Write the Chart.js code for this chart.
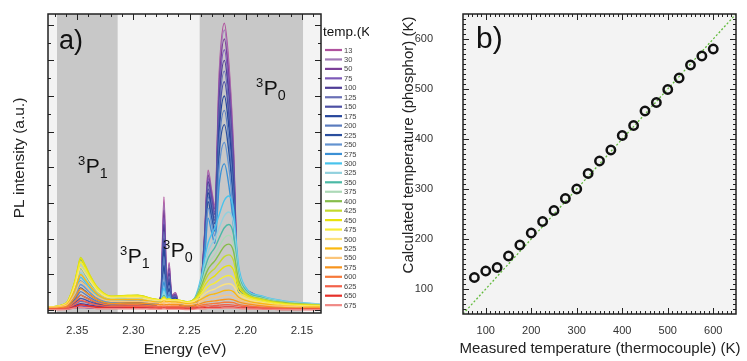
<!DOCTYPE html>
<html>
<head>
<meta charset="utf-8">
<script src="https://cdn.jsdelivr.net/npm/chart.js@4/dist/chart.umd.min.js"></script>
<style>
  body { margin: 0; background: #fff; }
  #specChart { position: absolute; left: 0; top: 0; }
  #calibChart { position: absolute; left: 375px; top: 0; }
</style>
</head>
<body>
<canvas id="specChart" width="369" height="361"></canvas>
<canvas id="calibChart" width="372" height="361"></canvas>
<script>
// ---- panel a) PL spectra ----
const energies = [2.376, 2.360, 2.352, 2.3495, 2.347, 2.3435, 2.339, 2.332, 2.320, 2.305, 2.296, 2.283,
  2.2755, 2.2728, 2.2702, 2.2682, 2.2660, 2.2625, 2.2595, 2.252, 2.245, 2.2395, 2.2365, 2.2335, 2.2305,
  2.2275, 2.2235, 2.2190, 2.2150, 2.2110, 2.2065, 2.2010, 2.185, 2.165, 2.134];

const temps = [13, 30, 50, 75, 100, 125, 150, 175, 200, 225, 250, 275, 300, 325, 350, 375, 400, 425,
  450, 475, 500, 525, 550, 575, 600, 625, 650, 675];

const tempColors = ['#b0529e', '#a27ab8', '#7b3f98', '#7d5ab8', '#4f3d96', '#6a70b6', '#4d50a4', '#26469b',
  '#5b7cbe', '#2a4f9e', '#6393d0', '#3b90d5', '#48c3ec', '#92d1de', '#4bb9a6', '#acd9b7', '#86bd4a',
  '#c3d92e', '#e8e20c', '#f7ec35', '#fbe27e', '#fbb80f', '#fbc57a', '#f7941d', '#f6793a', '#f2614a',
  '#e6302a', '#f08a86'];

const spectra = [
  [.02,.03,.06,.07,.07,.07,.06,.05,.05,.05,.05,.11,.42,3.17,.67,1.33,.42,.49,.17,.04,.12,.82,2.18,3.92,3.38,2.94,6.68,8.04,6.89,4.61,.6,.55,.32,.16,.1],
  [.02,.03,.06,.07,.07,.07,.06,.05,.05,.05,.05,.11,.4,3.0,.64,1.26,.4,.46,.17,.04,.12,.81,2.14,3.85,3.31,2.88,6.53,7.85,6.73,4.5,.59,.55,.31,.16,.1],
  [.02,.04,.07,.08,.08,.08,.07,.06,.06,.07,.07,.12,.39,2.8,.61,1.18,.39,.44,.17,.05,.13,.8,2.11,3.78,3.26,2.83,6.34,7.6,6.51,4.36,.6,.54,.32,.16,.11],
  [.02,.04,.1,.11,.12,.11,.11,.08,.08,.09,.09,.13,.37,2.6,.58,1.11,.37,.42,.17,.06,.14,.79,2.06,3.69,3.18,2.75,6.11,7.3,6.25,4.19,.59,.54,.31,.17,.11],
  [.02,.05,.13,.16,.18,.17,.14,.11,.09,.1,.11,.14,.36,2.4,.54,1.03,.36,.4,.17,.06,.14,.78,2.02,3.6,3.1,2.68,5.87,7.0,5.99,4.02,.58,.53,.32,.16,.1],
  [.03,.06,.16,.21,.25,.23,.19,.14,.11,.12,.13,.14,.34,2.2,.51,.96,.34,.39,.17,.07,.15,.77,1.97,3.51,3.02,2.6,5.63,6.7,5.73,3.85,.57,.53,.3,.17,.11],
  [.03,.07,.21,.27,.33,.3,.24,.17,.12,.14,.15,.15,.33,2.0,.48,.88,.33,.37,.18,.08,.16,.76,1.92,3.4,2.92,2.52,5.39,6.4,5.47,3.68,.56,.52,.31,.16,.11],
  [.03,.07,.25,.34,.42,.37,.3,.2,.14,.16,.17,.16,.31,1.75,.44,.78,.31,.34,.18,.09,.16,.75,1.86,3.29,2.82,2.42,5.07,6.0,5.12,3.45,.55,.51,.31,.16,.11],
  [.04,.08,.3,.42,.52,.46,.36,.24,.16,.18,.19,.17,.29,1.5,.4,.69,.29,.31,.18,.1,.17,.73,1.8,3.17,2.72,2.32,4.76,5.6,4.77,3.22,.53,.49,.29,.16,.11],
  [.04,.09,.35,.5,.62,.55,.43,.29,.19,.21,.22,.19,.27,1.25,.36,.6,.27,.3,.18,.11,.18,.72,1.74,3.04,2.6,2.22,4.44,5.2,4.43,3.0,.51,.49,.29,.16,.11],
  [.05,.11,.41,.58,.72,.64,.5,.33,.21,.24,.25,.2,.26,1.0,.33,.5,.26,.28,.19,.13,.2,.7,1.65,2.86,2.45,2.08,4.04,4.7,4.0,2.72,.52,.48,.29,.16,.11],
  [.05,.12,.47,.66,.82,.72,.56,.37,.24,.27,.28,.22,.25,.8,.3,.43,.25,.27,.2,.14,.21,.66,1.5,2.58,2.21,1.87,3.55,4.1,3.49,2.39,.5,.46,.29,.16,.11],
  [.06,.13,.53,.74,.92,.81,.63,.42,.27,.3,.31,.24,.25,.62,.28,.37,.25,.26,.22,.19,.36,.95,1.46,1.88,2.12,2.3,2.69,3.08,3.2,2.84,1.28,.68,.39,.25,.17],
  [.07,.15,.6,.84,1.05,.93,.72,.47,.3,.33,.34,.26,.25,.5,.28,.33,.25,.26,.23,.2,.35,.85,1.28,1.64,1.84,1.99,2.32,2.65,2.75,2.45,1.14,.63,.37,.24,.17],
  [.07,.16,.66,.94,1.18,1.04,.8,.53,.33,.36,.37,.28,.26,.42,.28,.31,.26,.27,.25,.21,.35,.78,1.15,1.45,1.62,1.75,2.03,2.31,2.4,2.14,1.03,.6,.35,.22,.15],
  [.08,.18,.73,1.04,1.3,1.14,.88,.57,.36,.39,.4,.3,.27,.36,.28,.3,.27,.27,.26,.23,.34,.72,1.03,1.29,1.44,1.55,1.79,2.03,2.1,1.88,.94,.55,.33,.22,.16],
  [.08,.19,.79,1.13,1.42,1.25,.97,.61,.38,.4,.41,.31,.28,.35,.29,.3,.28,.28,.27,.24,.33,.67,.93,1.15,1.28,1.38,1.58,1.79,1.85,1.66,.85,.52,.31,.21,.14],
  [.08,.19,.82,1.18,1.48,1.3,1.0,.64,.39,.41,.42,.32,.29,.36,.3,.31,.29,.29,.28,.23,.33,.6,.81,.99,1.09,1.17,1.33,1.5,1.55,1.4,.76,.49,.3,.19,.14],
  [.08,.19,.81,1.16,1.45,1.27,.99,.63,.39,.41,.41,.32,.29,.36,.3,.31,.29,.29,.28,.23,.31,.52,.69,.82,.9,.96,1.09,1.21,1.25,1.13,.66,.45,.28,.18,.13],
  [.08,.18,.75,1.08,1.35,1.19,.92,.6,.37,.39,.39,.31,.28,.33,.28,.29,.28,.28,.27,.22,.28,.45,.56,.66,.72,.76,.85,.94,.97,.89,.55,.39,.25,.16,.11],
  [.08,.17,.68,.96,1.2,1.06,.83,.54,.34,.35,.35,.28,.26,.3,.26,.27,.26,.26,.25,.2,.26,.37,.46,.52,.56,.59,.66,.72,.74,.68,.45,.34,.21,.13,.11],
  [.07,.15,.57,.81,1.0,.88,.69,.45,.29,.3,.3,.24,.22,.26,.23,.24,.23,.23,.22,.18,.22,.31,.36,.41,.44,.46,.5,.55,.56,.52,.37,.28,.18,.12,.09],
  [.06,.13,.46,.65,.8,.71,.56,.37,.25,.25,.25,.21,.19,.22,.2,.2,.19,.19,.19,.15,.18,.25,.29,.32,.34,.35,.38,.41,.42,.39,.3,.23,.14,.11,.07],
  [.05,.1,.36,.49,.6,.53,.43,.29,.19,.2,.2,.17,.15,.17,.15,.16,.15,.15,.15,.12,.14,.19,.22,.24,.25,.26,.28,.3,.31,.29,.23,.19,.12,.07,.06],
  [.03,.07,.25,.34,.42,.37,.3,.21,.14,.15,.15,.12,.11,.12,.11,.11,.11,.11,.11,.09,.1,.14,.16,.17,.18,.19,.2,.22,.22,.21,.16,.13,.08,.05,.04],
  [.02,.05,.17,.23,.28,.25,.2,.14,.1,.11,.11,.09,.08,.09,.08,.08,.08,.08,.08,.06,.07,.1,.11,.12,.12,.13,.14,.15,.15,.14,.12,.1,.06,.04,.03],
  [.02,.03,.1,.13,.15,.14,.11,.08,.06,.07,.07,.06,.05,.06,.05,.05,.05,.05,.05,.04,.05,.06,.07,.07,.08,.08,.08,.09,.09,.09,.07,.06,.04,.02,.02],
  [.01,.02,.06,.07,.08,.07,.07,.04,.04,.04,.04,.03,.03,.04,.03,.03,.03,.03,.03,.02,.03,.04,.04,.05,.05,.05,.05,.06,.06,.06,.05,.04,.03,.02,.01]
];

const energyTicks = [2.35, 2.30, 2.25, 2.20, 2.15];
const grayBands = [[2.368, 2.314], [2.241, 2.149]];

// ---- panel b) calibration ----
const measuredT = [75, 100, 125, 150, 175, 200, 225, 250, 275, 300, 325, 350, 375, 400, 425, 450, 475, 500, 525, 550, 575, 600];
const calcT = [123, 136, 143, 166, 188, 212, 235, 257, 281, 300, 331, 356, 378, 407, 427, 456, 473, 499, 522, 548, 566, 580];
const tempTicks = [100, 200, 300, 400, 500, 600];

const FONT = '"Liberation Sans", Arial, sans-serif';

// tick marks pointing inwards on all four sides
function inwardTicks(ctx, area, xs, ys, xMaj, xMin, yMaj, yMin) {
  ctx.save();
  ctx.strokeStyle = '#222';
  ctx.lineWidth = 1;
  const mark = (vals, len, horizontal) => {
    vals.forEach(v => {
      if (horizontal) {
        const x = Math.round(xs.getPixelForValue(v)) + 0.5;
        if (x < area.left || x > area.right) return;
        ctx.beginPath();
        ctx.moveTo(x, area.bottom); ctx.lineTo(x, area.bottom - len);
        ctx.moveTo(x, area.top); ctx.lineTo(x, area.top + len);
        ctx.stroke();
      } else {
        const y = Math.round(ys.getPixelForValue(v)) + 0.5;
        if (y < area.top || y > area.bottom) return;
        ctx.beginPath();
        ctx.moveTo(area.left, y); ctx.lineTo(area.left + len, y);
        ctx.moveTo(area.right, y); ctx.lineTo(area.right - len, y);
        ctx.stroke();
      }
    });
  };
  mark(xMin, 3, true); mark(xMaj, 6, true);
  mark(yMin, 3, false); mark(yMaj, 6, false);
  ctx.lineWidth = 1.5;
  ctx.strokeRect(area.left, area.top, area.right - area.left, area.bottom - area.top);
  ctx.restore();
}

// term symbol like ³P₀
function termLabel(ctx, x, y, sup, sub, size) {
  ctx.save();
  ctx.fillStyle = '#111';
  ctx.textBaseline = 'alphabetic';
  ctx.textAlign = 'left';
  ctx.font = `${size * 0.62}px ${FONT}`;
  ctx.fillText(sup, x, y - size * 0.36);
  const w = ctx.measureText(sup).width;
  ctx.font = `${size}px ${FONT}`;
  ctx.fillText('P', x + w + 0.5, y);
  const wp = ctx.measureText('P').width;
  ctx.font = `${size * 0.68}px ${FONT}`;
  ctx.fillText(sub, x + w + wp + 0.5, y + size * 0.25);
  ctx.restore();
}

function rotatedText(ctx, text, x, y, size) {
  ctx.save();
  ctx.translate(x, y);
  ctx.rotate(-Math.PI / 2);
  ctx.font = `${size}px ${FONT}`;
  ctx.fillStyle = '#222';
  ctx.textAlign = 'center';
  ctx.textBaseline = 'middle';
  ctx.fillText(text, 0, 0);
  ctx.restore();
}

function centeredText(ctx, text, x, y, size) {
  ctx.save();
  ctx.font = `${size}px ${FONT}`;
  ctx.fillStyle = '#222';
  ctx.textAlign = 'center';
  ctx.textBaseline = 'middle';
  ctx.fillText(text, x, y);
  ctx.restore();
}

// keep the plot frame where it is: no extra room for tick label overhang
function noVerticalPadding(s) {
  s.paddingTop = 0;
  s.paddingBottom = 0;
}

const specDecor = {
  id: 'specDecor',
  beforeDatasetsDraw(chart) {
    const { ctx, chartArea: a, scales: { x } } = chart;
    ctx.save();
    ctx.fillStyle = '#f3f3f3';
    ctx.fillRect(a.left, a.top, a.right - a.left, a.bottom - a.top);
    ctx.fillStyle = '#c8c8c8';
    grayBands.forEach(([e1, e2]) => {
      const p1 = x.getPixelForValue(e1), p2 = x.getPixelForValue(e2);
      ctx.fillRect(p1, a.top, p2 - p1, a.bottom - a.top);
    });
    ctx.restore();
  },
  afterDatasetsDraw(chart) {
    const { ctx, chartArea: a, scales: { x, y } } = chart;
    const xMin = [], yMaj = [], yMin = [];
    for (let e = 2.14; e < 2.375; e += 0.01) xMin.push(+e.toFixed(2));
    for (let v = 0; v <= 8; v++) { yMaj.push(v); yMin.push(v + 0.5); }
    inwardTicks(ctx, a, x, y, energyTicks, xMin, yMaj, yMin);

    ctx.save();
    ctx.fillStyle = '#111';
    ctx.font = `27px ${FONT}`;
    ctx.fillText('a)', 59, 49);
    ctx.restore();
    termLabel(ctx, 78, 173, '3', '1', 21);
    termLabel(ctx, 120, 263, '3', '1', 21);
    termLabel(ctx, 163, 257, '3', '0', 21);
    termLabel(ctx, 256, 95, '3', '0', 21);

    rotatedText(ctx, 'PL intensity (a.u.)', 20, 158, 15.5);
    centeredText(ctx, 'Energy (eV)', 185, 350, 15.5);

    // legend
    ctx.save();
    ctx.font = `13.5px ${FONT}`;
    ctx.fillStyle = '#111';
    ctx.textBaseline = 'middle';
    ctx.fillText('temp.(K)', 323, 32);
    ctx.font = `7.5px ${FONT}`;
    temps.forEach((t, i) => {
      const ly = 50 + i * 9.45;
      ctx.strokeStyle = tempColors[i];
      ctx.lineWidth = 2.2;
      ctx.beginPath();
      ctx.moveTo(325, ly); ctx.lineTo(342, ly);
      ctx.stroke();
      ctx.fillStyle = '#444';
      ctx.fillText(String(t), 344, ly + 0.5);
    });
    ctx.restore();
  }
};

new Chart(document.getElementById('specChart'), {
  type: 'line',
  data: {
    // last temperature first so the hot spectra are painted on top
    datasets: temps.map((t, i) => ({
      label: t + ' K',
      data: energies.map((e, j) => ({ x: e, y: spectra[i][j] })),
      borderColor: tempColors[i],
      borderWidth: 1.4,
      pointRadius: 0,
      cubicInterpolationMode: 'monotone',
      fill: false
    })).reverse()
  },
  options: {
    responsive: false,
    animation: false,
    events: [],
    layout: { padding: { left: 0, right: 48, top: 14, bottom: 0 } },
    plugins: { legend: { display: false }, tooltip: { enabled: false } },
    scales: {
      x: {
        type: 'linear', reverse: true, min: 2.133, max: 2.376,
        afterBuildTicks: s => { s.ticks = energyTicks.map(v => ({ value: v })); },
        afterFit: s => { s.height = 48; },
        grid: { display: false, drawTicks: false },
        border: { display: false },
        ticks: { autoSkip: false, maxRotation: 0, padding: 11, color: '#333',
          font: { family: FONT, size: 11.5 }, callback: v => v.toFixed(2) }
      },
      y: {
        min: -0.08, max: 8.3,
        afterFit: s => { s.width = 48; noVerticalPadding(s); },
        grid: { display: false, drawTicks: false },
        border: { display: false },
        ticks: { display: false }
      }
    }
  },
  plugins: [specDecor]
});

const calibDecor = {
  id: 'calibDecor',
  beforeDatasetsDraw(chart) {
    const { ctx, chartArea: a } = chart;
    ctx.save();
    ctx.fillStyle = '#f3f3f3';
    ctx.fillRect(a.left, a.top, a.right - a.left, a.bottom - a.top);
    ctx.restore();
  },
  afterDatasetsDraw(chart) {
    const { ctx, chartArea: a, scales: { x, y } } = chart;
    const minor = [];
    for (let v = 60; v <= 640; v += 10) if (v % 100) minor.push(v);
    inwardTicks(ctx, a, x, y, tempTicks, minor, tempTicks, minor);
    ctx.save();
    ctx.fillStyle = '#111';
    ctx.font = `30px ${FONT}`;
    ctx.fillText('b)', 101, 48);
    ctx.restore();
    rotatedText(ctx, 'Calculated temperature (phosphor) (K)', 34, 145, 15);
    centeredText(ctx, 'Measured temperature (thermocouple) (K)', 225, 349, 15);
  }
};

new Chart(document.getElementById('calibChart'), {
  type: 'scatter',
  data: {
    datasets: [
      {
        label: 'calculated',
        data: measuredT.map((m, i) => ({ x: m, y: calcT[i] })),
        pointRadius: 4.2,
        pointBorderWidth: 2.5,
        borderColor: '#111',
        backgroundColor: 'rgba(0,0,0,0)'
      },
      {
        label: 'y = x',
        data: [{ x: 50, y: 50 }, { x: 650, y: 650 }],
        showLine: true,
        borderColor: '#62bb3c',
        borderWidth: 1.3,
        borderDash: [2, 2],
        pointRadius: 0
      }
    ]
  },
  options: {
    responsive: false,
    animation: false,
    events: [],
    layout: { padding: { left: 0, right: 11, top: 14, bottom: 0 } },
    plugins: { legend: { display: false }, tooltip: { enabled: false } },
    scales: {
      x: {
        type: 'linear', min: 50, max: 650,
        afterBuildTicks: s => { s.ticks = tempTicks.map(v => ({ value: v })); },
        afterFit: s => { s.height = 47; },
        grid: { display: false, drawTicks: false },
        border: { display: false },
        ticks: { autoSkip: false, maxRotation: 0, padding: 10, color: '#333', font: { family: FONT, size: 11 } }
      },
      y: {
        type: 'linear', min: 50, max: 650,
        afterBuildTicks: s => { s.ticks = tempTicks.map(v => ({ value: v })); },
        afterFit: s => { s.width = 88; noVerticalPadding(s); },
        grid: { display: false, drawTicks: false },
        border: { display: false },
        ticks: { padding: 30, color: '#333', font: { family: FONT, size: 11 } }
      }
    }
  },
  plugins: [calibDecor]
});
</script>
</body>
</html>
